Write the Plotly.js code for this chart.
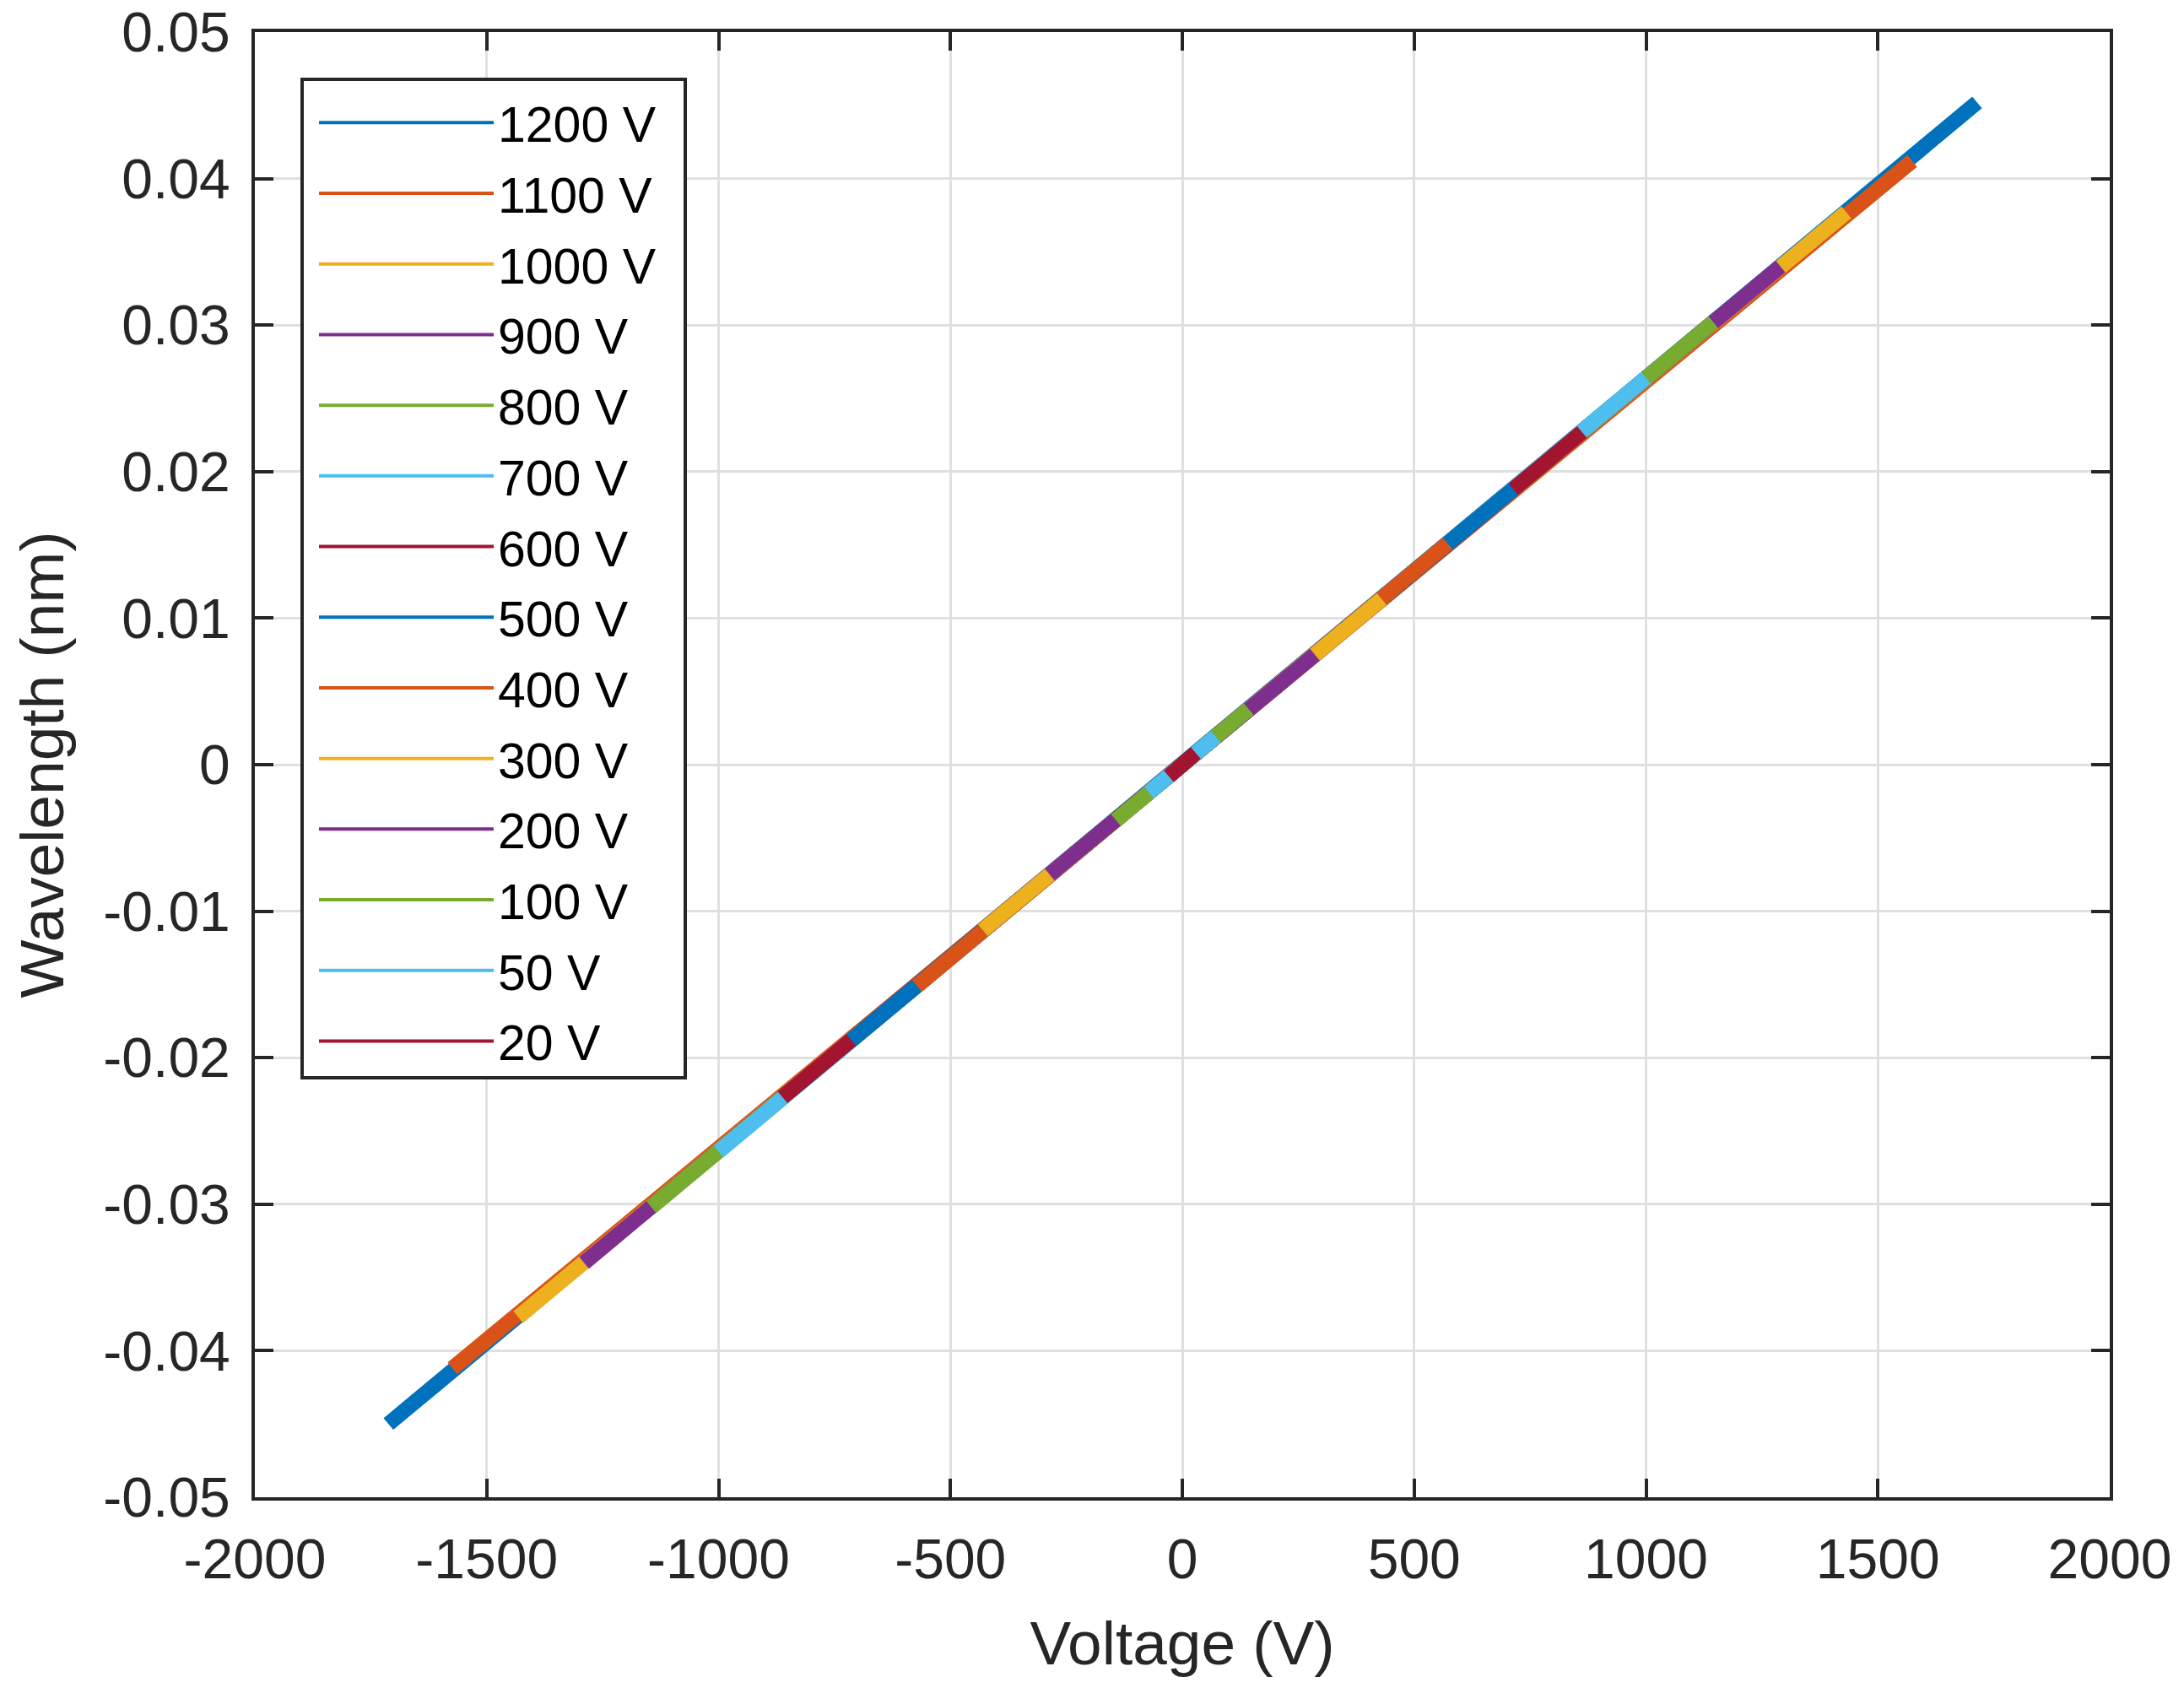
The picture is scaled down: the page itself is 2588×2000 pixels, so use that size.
<!DOCTYPE html>
<html>
<head>
<meta charset="utf-8">
<script src="https://cdn.plot.ly/plotly-3.0.1.min.js"></script>
<style>
  body { margin: 0; background: #fff; }
</style>
</head>
<body>
<div id="myDiv"></div>
<script>
// series (peak drive voltage and wavelength shift at each end)
var labels  = ['1200 V', '1100 V', '1000 V', '900 V', '800 V', '700 V', '600 V',
               '500 V', '400 V', '300 V', '200 V', '100 V', '50 V', '20 V'];
var voltLo  = [-1712, -1574, -1432, -1290, -1145, -1000, -862, -714, -572, -430, -286, -143, -72, -29];
var voltHi  = [1714, 1574, 1432, 1290, 1145, 1000, 862, 714, 572, 430, 286, 143, 72, 29];
var wlLo    = [-0.0450, -0.0412, -0.0377, -0.0340, -0.0302, -0.0264, -0.0227, -0.0188, -0.0151, -0.0113, -0.0075, -0.0038, -0.0019, -0.0008];
var wlMid   = [0.0000, 0.0000, 0.0000, 0.0000, 0.0000, 0.0000, 0.0000, 0.0000, 0.0000, 0.0000, 0.0000, 0.0000, 0.0000, 0.0000];
var wlHi    = [0.0452, 0.0412, 0.0377, 0.0340, 0.0302, 0.0264, 0.0227, 0.0188, 0.0151, 0.0113, 0.0075, 0.0038, 0.0019, 0.0008];

var xTicks  = [-2000, -1500, -1000, -500, 0, 500, 1000, 1500, 2000];
var xLabels = ['-2000', '-1500', '-1000', '-500', '0', '500', '1000', '1500', '2000'];
var yTicks  = [-0.05, -0.04, -0.03, -0.02, -0.01, 0, 0.01, 0.02, 0.03, 0.04, 0.05];
var yLabels = ['-0.05', '-0.04', '-0.03', '-0.02', '-0.01', '0', '0.01', '0.02', '0.03', '0.04', '0.05'];

// matlab default colour order
var colors = ['#0072BD', '#D95319', '#EDB120', '#7E2F8E', '#77AC30', '#4DBEEE', '#A2142F'];

var ink = '#262626';
var font = 'Liberation Sans, Arial, Helvetica, sans-serif';

var plotData = [];
// the measured loops, thick because of the noise band
for (var i = 0; i < labels.length; i++) {
  plotData.push({
    x: [voltLo[i], 0, voltHi[i]],
    y: [wlLo[i], wlMid[i], wlHi[i]],
    mode: 'lines',
    type: 'scatter',
    name: labels[i],
    legendgroup: labels[i],
    showlegend: false,
    hoverinfo: 'none',
    line: {color: colors[i % colors.length], width: 18}
  });
}
// thin lines for the legend only
for (var j = 0; j < labels.length; j++) {
  plotData.push({
    x: [null],
    y: [null],
    mode: 'lines',
    type: 'scatter',
    name: labels[j],
    legendgroup: labels[j],
    line: {color: colors[j % colors.length], width: 4}
  });
}

var axisCommon = {
  showline: true,
  linecolor: ink,
  linewidth: 4,
  mirror: 'ticks',
  ticks: 'inside',
  ticklen: 22,
  tickwidth: 4,
  tickcolor: ink,
  showgrid: true,
  gridcolor: '#e0e0e0',
  gridwidth: 3,
  zeroline: false,
  tickmode: 'array',
  tickfont: {family: font, size: 66, color: ink},
  automargin: false
};

var layout = {
  width: 2588,
  height: 2000,
  margin: {l: 302, r: 88, t: 38, b: 226},
  plot_bgcolor: '#fff',
  paper_bgcolor: '#fff',
  font: {family: font, color: ink},
  showlegend: true,
  xaxis: Object.assign({}, axisCommon, {
    range: [-2000, 2000],
    tickvals: xTicks,
    ticktext: xLabels,
    ticklabelstandoff: 13,
    title: {text: 'Voltage (V)', font: {family: font, size: 73, color: ink}, standoff: 39}
  }),
  yaxis: Object.assign({}, axisCommon, {
    range: [-0.05, 0.05],
    tickvals: yTicks,
    ticktext: yLabels,
    ticklabelstandoff: 12,
    title: {text: 'Wavelength (nm)', font: {family: font, size: 73, color: ink}, standoff: 24}
  }),
  // legend frame, white so the grid does not show through
  shapes: [{
    type: 'rect',
    xref: 'paper', yref: 'paper',
    x0: 0.02548, x1: 0.23203,
    y0: 0.28629, y1: 0.96774,
    layer: 'above',
    fillcolor: '#fff',
    line: {color: ink, width: 4}
  }],
  legend: {
    x: 0.0323,
    y: 0.964,
    xanchor: 'left',
    yanchor: 'top',
    bgcolor: 'rgba(0,0,0,0)',
    borderwidth: 0,
    itemwidth: 207,
    tracegroupgap: 4,
    font: {family: font, size: 59, color: '#000'}
  }
};

var config = {displayModeBar: false, responsive: false};

Plotly.newPlot('myDiv', plotData, layout, config);
</script>
</body>
</html>
